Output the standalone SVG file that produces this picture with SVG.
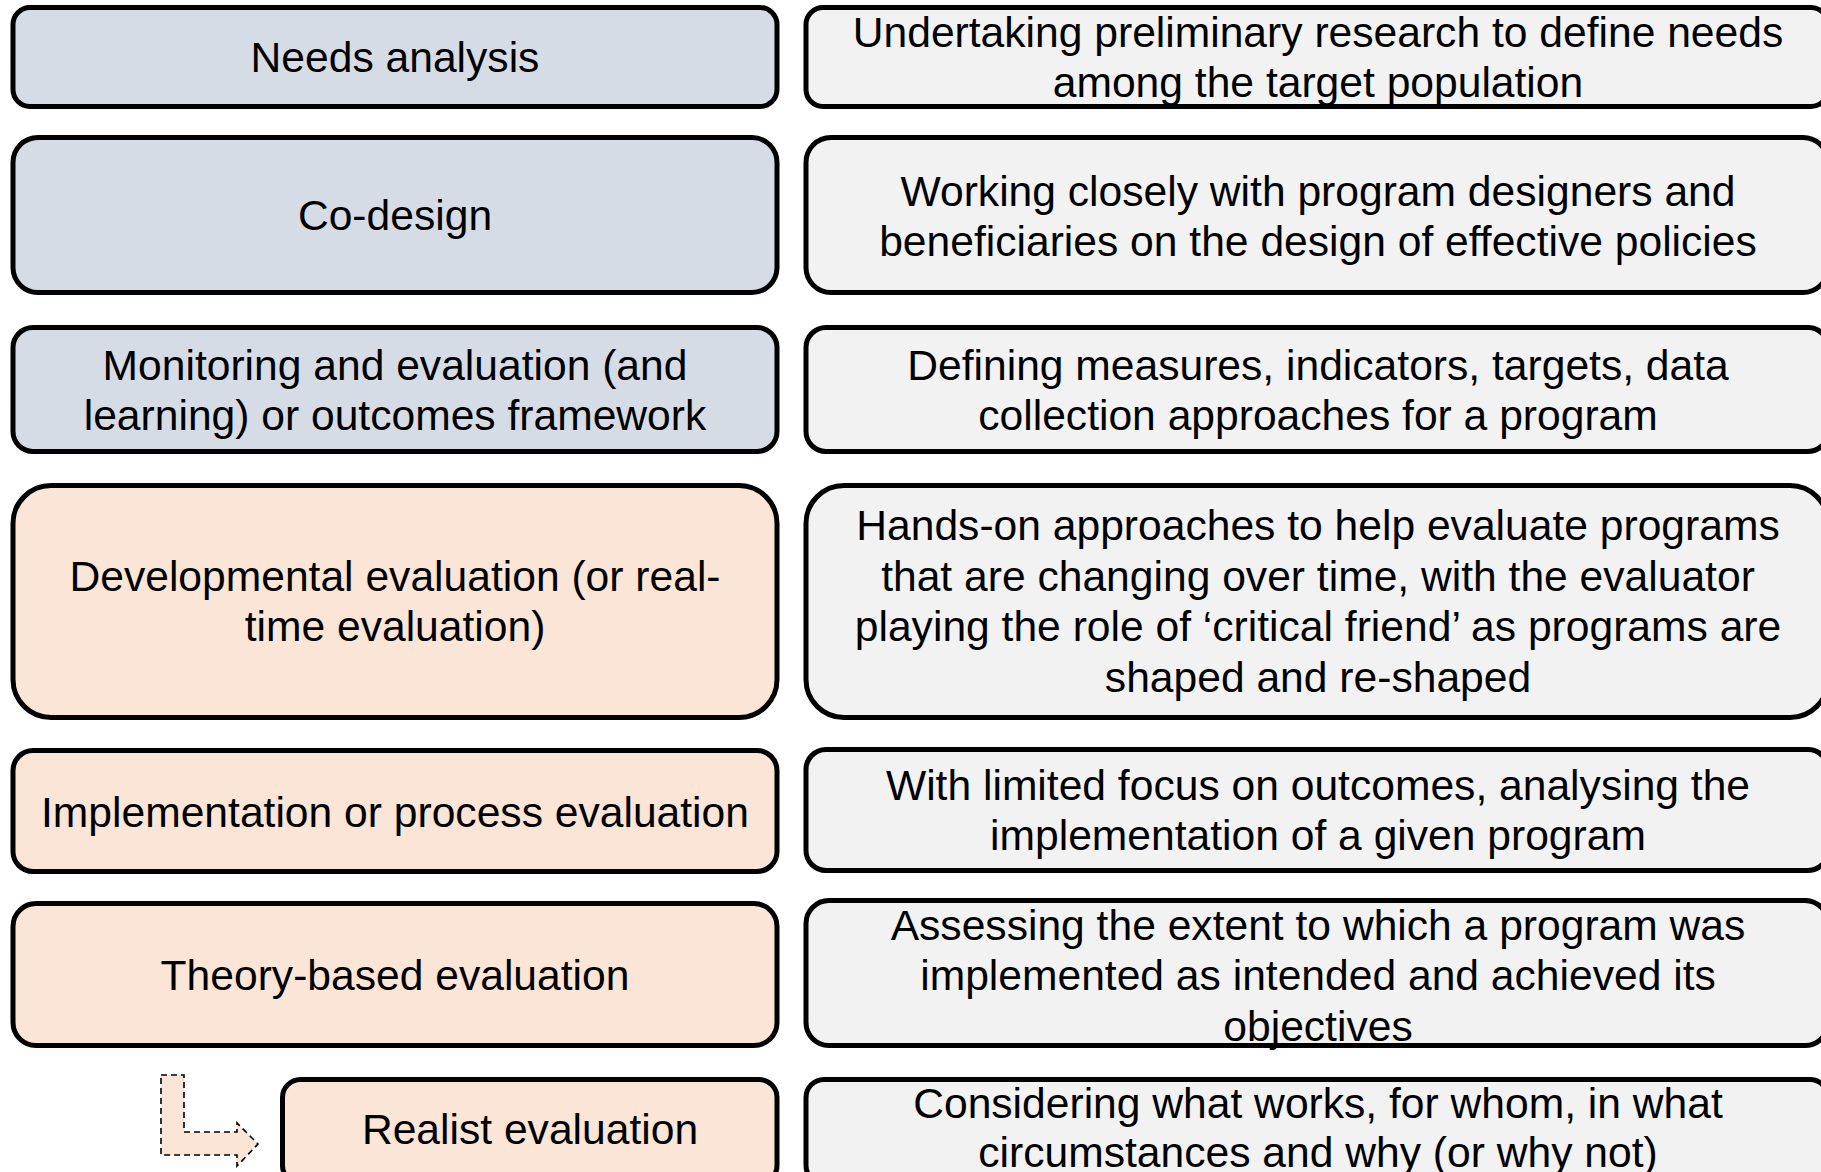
<svg xmlns="http://www.w3.org/2000/svg" width="1821" height="1172" viewBox="0 0 1821 1172">
<style>
.box{stroke:#000;stroke-width:5}
.blue{fill:#d6dce5}
.peach{fill:#fbe5d6}
.gray{fill:#f2f2f2}
text{font-family:"Liberation Sans",Arial,sans-serif;font-size:42.6px;fill:#000;text-anchor:middle}
.arrow{fill:#fbe5d6;stroke:#000;stroke-width:1.6;stroke-dasharray:6 4}
</style>
<rect width="1821" height="1172" fill="#fff"/>
<g id="connectors">
<polygon class="arrow" points="161,1075 184,1075 184,1132 237,1132 237,1123 258,1144 237,1166 237,1155 161,1155"/>
</g>
<g id="needs-analysis"><rect class="box blue" x="13" y="7.5" width="764" height="99" rx="17"/><text x="395" y="72">Needs analysis</text></g>
<g id="needs-analysis-desc"><rect class="box gray" x="806" y="7.5" width="1022" height="99" rx="17"/><text x="1318" y="46.5">Undertaking preliminary research to define needs</text><text x="1318" y="96.5">among the target population</text></g>
<g id="co-design"><rect class="box blue" x="13" y="137.5" width="764" height="155" rx="25"/><text x="395" y="230">Co-design</text></g>
<g id="co-design-desc"><rect class="box gray" x="806" y="137.5" width="1022" height="155" rx="25"/><text x="1318" y="205.5">Working closely with program designers and</text><text x="1318" y="256">beneficiaries on the design of effective policies</text></g>
<g id="monitoring"><rect class="box blue" x="13" y="327.5" width="764" height="124" rx="20"/><text x="395" y="380">Monitoring and evaluation (and</text><text x="395" y="430">learning) or outcomes framework</text></g>
<g id="monitoring-desc"><rect class="box gray" x="806" y="327.5" width="1022" height="124" rx="20"/><text x="1318" y="380">Defining measures, indicators, targets, data</text><text x="1318" y="430">collection approaches for a program</text></g>
<g id="developmental"><rect class="box peach" x="13" y="485.5" width="764" height="232" rx="38"/><text x="395" y="591">Developmental evaluation (or real-</text><text x="395" y="641">time evaluation)</text></g>
<g id="developmental-desc"><rect class="box gray" x="806" y="485.5" width="1022" height="232" rx="38"/><text x="1318" y="540">Hands-on approaches to help evaluate programs</text><text x="1318" y="590.5">that are changing over time, with the evaluator</text><text x="1318" y="641">playing the role of ‘critical friend’ as programs are</text><text x="1318" y="691.5">shaped and re-shaped</text></g>
<g id="implementation"><rect class="box peach" x="13" y="750.5" width="764" height="121" rx="20"/><text x="395" y="827">Implementation or process evaluation</text></g>
<g id="implementation-desc"><rect class="box gray" x="806" y="749.5" width="1022" height="121" rx="20"/><text x="1318" y="800">With limited focus on outcomes, analysing the</text><text x="1318" y="850">implementation of a given program</text></g>
<g id="theory-based"><rect class="box peach" x="13" y="903.5" width="764" height="142" rx="23"/><text x="395" y="990">Theory-based evaluation</text></g>
<g id="theory-based-desc"><rect class="box gray" x="806" y="900.5" width="1022" height="145" rx="23"/><text x="1318" y="940">Assessing the extent to which a program was</text><text x="1318" y="990">implemented as intended and achieved its</text><text x="1318" y="1041">objectives</text></g>
<g id="realist"><rect class="box peach" x="282.5" y="1079.5" width="494.5" height="104" rx="18"/><text x="530" y="1144">Realist evaluation</text></g>
<g id="realist-desc"><rect class="box gray" x="806" y="1079.5" width="1022" height="104" rx="18"/><text x="1318" y="1118">Considering what works, for whom, in what</text><text x="1318" y="1167">circumstances and why (or why not)</text></g>
</svg>
